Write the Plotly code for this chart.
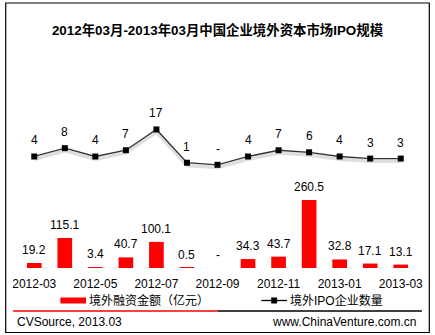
import plotly.graph_objects as go

# Monthly overseas IPO data, 2012-03 .. 2013-03
months = ["2012-03", "2012-04", "2012-05", "2012-06", "2012-07", "2012-08", "2012-09",
          "2012-10", "2012-11", "2012-12", "2013-01", "2013-02", "2013-03"]
amount = [19.2, 115.1, 3.4, 40.7, 100.1, 0.5, 0, 34.3, 43.7, 260.5, 32.8, 17.1, 13.1]
amount_text = ["19.2", "115.1", "3.4", "40.7", "100.1", "0.5", "-", "34.3", "43.7",
               "260.5", "32.8", "17.1", "13.1"]
count = [4, 8, 4, 7, 17, 1, 0, 4, 7, 6, 4, 3, 3]
count_text = ["4", "8", "4", "7", "17", "1", "-", "4", "7", "6", "4", "3", "3"]
tick_months = ["2012-03", "2012-05", "2012-07", "2012-09", "2012-11", "2013-01", "2013-03"]

W, H = 435, 335
L, R, T, B = 16, 16, 100, 67
PW, PH = W - L - R, H - T - B

FONT = "Liberation Sans, Arial, Noto Sans CJK SC, sans-serif"


def px(x):
    return (x - L) / PW


def py(y):
    return (H - B - y) / PH


fig = go.Figure()

fig.add_trace(go.Bar(x=months, y=amount, width=0.48, marker=dict(color="#ff0000", line_width=0),
                     yaxis="y", hoverinfo="skip"))

# soft drop shadow under the count line
fig.add_trace(go.Scatter(x=months, y=[v - 1.3 for v in count], yaxis="y2", mode="lines",
                         line=dict(color="rgba(0,0,0,0.13)", width=3.5), hoverinfo="skip"))
fig.add_trace(go.Scatter(x=months, y=count, yaxis="y2", mode="lines+markers",
                         line=dict(color="#333333", width=1.3),
                         marker=dict(symbol="square", size=6, color="#000000"),
                         hoverinfo="skip"))

annotations = []
for m, v, t in zip(months, amount, amount_text):
    annotations.append(dict(x=m, y=v, xref="x", yref="y", text=t, showarrow=False,
                            yanchor="middle", yshift=13, font=dict(size=12, color="#000")))
for m, v, t in zip(months, count, count_text):
    annotations.append(dict(x=m, y=v, xref="x", yref="y2", text=t, showarrow=False,
                            yanchor="middle", yshift=16, font=dict(size=12, color="#000")))

# legend texts
annotations.append(dict(x=px(85), y=py(300), xref="paper", yref="paper",
                        text="境外融资金额（亿元）", showarrow=False, xanchor="left",
                        yanchor="middle", font=dict(size=12, color="#000")))
annotations.append(dict(x=px(289), y=py(300), xref="paper", yref="paper",
                        text="境外IPO企业数量", showarrow=False, xanchor="left",
                        yanchor="middle", font=dict(size=12, color="#000")))
# footer
annotations.append(dict(x=px(12), y=py(322), xref="paper", yref="paper",
                        text="CVSource, 2013.03", showarrow=False, xanchor="left",
                        yanchor="middle", font=dict(size=12, color="#000")))
annotations.append(dict(x=px(421), y=py(322), xref="paper", yref="paper",
                        text="www.ChinaVenture.com.cn", showarrow=False, xanchor="right",
                        yanchor="middle", font=dict(size=12, color="#000")))

shapes = [
    # outer frame
    dict(type="rect", xref="paper", yref="paper", x0=px(2.5), x1=px(432.5), y0=py(332.5),
         y1=py(3), line=dict(color="#000", width=1.2)),
    # legend keys
    dict(type="rect", xref="paper", yref="paper", x0=px(58), x1=px(84), y0=py(303.5),
         y1=py(297.5), fillcolor="#ff0000", line_width=0),
    dict(type="line", xref="paper", yref="paper", x0=px(262), x1=px(288), y0=py(300.5),
         y1=py(300.5), line=dict(color="#000", width=1.3)),
    dict(type="rect", xref="paper", yref="paper", x0=px(272), x1=px(278), y0=py(303.5),
         y1=py(297.5), fillcolor="#000", line_width=0),
    # footer rule
    dict(type="line", xref="paper", yref="paper", x0=px(10), x1=px(218), y0=py(311),
         y1=py(311), line=dict(color="#ff0000", width=1.6)),
    dict(type="line", xref="paper", yref="paper", x0=px(218), x1=px(425), y0=py(311),
         y1=py(311), line=dict(color="#000", width=1.6)),
]

fig.update_layout(
    width=W, height=H,
    margin=dict(l=L, r=R, t=T, b=B, pad=0),
    paper_bgcolor="#ffffff", plot_bgcolor="#ffffff",
    showlegend=False,
    font=dict(family=FONT, size=12, color="#000"),
    title=dict(text="<b>2012年03月-2013年03月中国企业境外资本市场IPO规模</b>",
               x=0.5, xref="container", xanchor="center",
               y=1 - 30 / H, yref="container", yanchor="middle",
               font=dict(size=13.4, color="#000", family=FONT)),
    xaxis=dict(type="category", categoryorder="array", categoryarray=months,
               tickvals=tick_months, ticktext=tick_months, showgrid=False, zeroline=False,
               showline=False, ticks="outside", ticklen=5, tickcolor="rgba(0,0,0,0)",
               tickfont=dict(size=12, color="#000"), range=[-0.5, 12.5]),
    yaxis=dict(range=[0, 644.4], visible=False, fixedrange=True),
    yaxis2=dict(range=[-49.6, 31.15], overlaying="y", visible=False, fixedrange=True),
    annotations=annotations,
    shapes=shapes,
)

fig.write_html("out.html")
